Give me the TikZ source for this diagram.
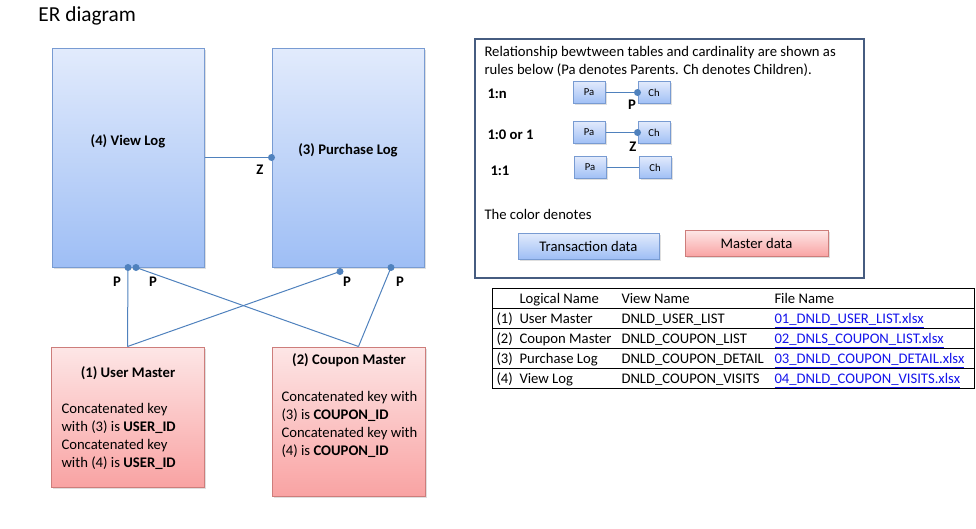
\documentclass[tikz,border=0pt]{standalone}
\usepackage{fontspec}
\setmainfont{Carlito}
\usetikzlibrary{calc,shadows}

\definecolor{bluetop}{RGB}{226,235,252}
\definecolor{bluebot}{RGB}{158,190,245}
\definecolor{bluebdr}{RGB}{120,155,210}
\definecolor{redtop}{RGB}{253,230,230}
\definecolor{redbot}{RGB}{249,163,163}
\definecolor{redbdr}{RGB}{205,125,123}
\definecolor{relcol}{RGB}{79,129,189}
\definecolor{legbdr}{RGB}{70,92,128}
\definecolor{linkcol}{RGB}{20,20,235}

\tikzset{every picture/.style={line width=0.75pt}}
\tikzset{
  transbox/.style={draw=bluebdr, top color=bluetop, bottom color=bluebot, inner sep=0pt,
    drop shadow={shadow xshift=1.2pt, shadow yshift=-1.2pt, opacity=0.25}},
  mastbox/.style={draw=redbdr, top color=redtop, bottom color=redbot, inner sep=0pt,
    drop shadow={shadow xshift=1.2pt, shadow yshift=-1.2pt, opacity=0.25}},
  smallbox/.style={transbox, minimum width=24pt, minimum height=17pt, font=\fontsize{8}{9}\selectfont},
  rel/.style={draw=relcol, line width=0.75pt},
  pdot/.style={fill=relcol},
  card/.style={font=\bfseries\fontsize{11}{13}\selectfont, inner sep=0pt},
  txt/.style={font=\fontsize{11}{13.5}\selectfont, inner sep=0pt},
  cell/.style={txt, anchor=base west},
}

\begin{document}
\begin{tikzpicture}[x=0.75pt,y=0.75pt,yscale=-1,xscale=1]
\useasboundingbox (0,0) rectangle (976,529);

%Title
\node[font=\fontsize{16}{19}\selectfont, inner sep=0pt, anchor=west] (title) at (38,16) {ER diagram};

%Shape: Rectangle - (4) View Log
\node[transbox, minimum width=114pt, minimum height=164.25pt] (vlog) at (128,157.5) {};
\node[card] (vlogtxt) at (128,141) {(4) View Log};
%Shape: Rectangle - (3) Purchase Log
\node[transbox, minimum width=114pt, minimum height=164.25pt] (plog) at (348,157.5) {};
\node[card] (plogtxt) at (348,150) {(3) Purchase Log};
%Shape: Rectangle - (1) User Master
\node[mastbox, minimum width=114.75pt, minimum height=105pt] (umast) at (127.5,417) {};
\node[card] (umasttxt) at (128,373) {(1) User Master};
\node[txt, anchor=west, align=left] (umastkey) at (61,436)
  {Concatenated key\\with (3) is \textbf{USER\_ID}\\Concatenated key\\with (4) is \textbf{USER\_ID}};
%Shape: Rectangle - (2) Coupon Master
\node[mastbox, minimum width=114.75pt, minimum height=111.75pt] (cmast) at (348.5,421.5) {};
\node[card] (cmasttxt) at (349,360) {(2) Coupon Master};
\node[txt, anchor=west, align=left] (cmastkey) at (281,424)
  {Concatenated key with\\(3) is \textbf{COUPON\_ID}\\Concatenated key with\\(4) is \textbf{COUPON\_ID}};

%Straight Lines - relations
\draw[rel] (vlog.east) -- (plog.west);
\fill[pdot] (plog.west) circle (3.5);
\node[card] (zlab) at (260,170) {Z};

\draw[rel] (vlog.south) -- (umast.north);
\fill[pdot] (vlog.south) circle (3.5);
\draw[rel] ($(vlog.south)+(8,0)$) -- ($(cmast.north)+(10,0)$);
\fill[pdot] ($(vlog.south)+(8,0)$) circle (3.5);
\draw[rel] ($(plog.south)+(-8,4)$) -- (umast.north);
\fill[pdot] ($(plog.south)+(-8,4)$) circle (3.5);
\draw[rel] ($(plog.south)+(43,0)$) -- ($(cmast.north)+(10,0)$);
\fill[pdot] ($(plog.south)+(43,0)$) circle (3.5);
\node[card] (p1) at (117,282) {P};
\node[card] (p2) at (153,282) {P};
\node[card] (p3) at (347,282) {P};
\node[card] (p4) at (400,282) {P};

%Shape: Rectangle - legend
\draw[legbdr, line width=2pt, fill=white] (475,39) rectangle (864,278);
\node[txt, anchor=north west, align=left] (legtxt) at (484,46)
  {Relationship bewtween tables and cardinality are shown as\\rules below (Pa denotes Parents. Ch denotes Children).};

\node[card, anchor=west] (c1n) at (487,94) {1:n};
\node[smallbox] (pa1) at (589,92.5) {Pa};
\node[smallbox] (ch1) at (654,92.5) {Ch};
\draw[rel] (pa1.east) -- (ch1.west);
\fill[pdot] (ch1.west) circle (3.5);
\node[card] (lp) at (632,105) {P};

\node[card, anchor=west] (c10) at (487,135) {1:0 or 1};
\node[smallbox] (pa2) at (589,132.5) {Pa};
\node[smallbox] (ch2) at (654,132.5) {Ch};
\draw[rel] (pa2.east) -- (ch2.west);
\fill[pdot] (ch2.west) circle (3.5);
\node[card] (lz) at (633,147) {Z};

\node[card, anchor=west] (c11) at (490,171) {1:1};
\node[smallbox] (pa3) at (590,167.5) {Pa};
\node[smallbox] (ch3) at (655,167.5) {Ch};
\draw[rel] (pa3.east) -- (ch3.west);

\node[txt, anchor=west] (coltxt) at (484,214) {The color denotes};
\node[transbox, minimum width=105.75pt, minimum height=19.5pt, txt] (trans) at (588.5,246) {Transaction data};
\node[mastbox, minimum width=107.25pt, minimum height=19.5pt, txt] (master) at (756.5,243.5) {Master data};

%Table of files
\draw[black, line width=0.6pt] (492,288) rectangle (974,388);
\foreach \y in {308,328,348,368}
  \draw[black, line width=0.6pt] (492,\y) -- (974,\y);
\node[cell] (hlog) at (519,303) {Logical Name};
\node[cell] (hview) at (621,303) {View Name};
\node[cell] (hfile) at (774,303) {File Name};
\foreach \num/\lname/\vname/\fname [count=\i] in {
  {(1)}/User Master/DNLD\_USER\_LIST/01\_DNLD\_USER\_LIST.xlsx,
  {(2)}/Coupon Master/DNLD\_COUPON\_LIST/02\_DNLS\_COUPON\_LIST.xlsx,
  {(3)}/Purchase Log/DNLD\_COUPON\_DETAIL/03\_DNLD\_COUPON\_DETAIL.xlsx,
  {(4)}/View Log/DNLD\_COUPON\_VISITS/04\_DNLD\_COUPON\_VISITS.xlsx}
{
  \node[cell] (num\i) at (496,303+20*\i) {\num};
  \node[cell] (lname\i) at (519,303+20*\i) {\lname};
  \node[cell] (vname\i) at (621,303+20*\i) {\vname};
  \node[cell, text=linkcol] (fname\i) at (774,303+20*\i) {\underline{\fname}};
}

\end{tikzpicture}
\end{document}
